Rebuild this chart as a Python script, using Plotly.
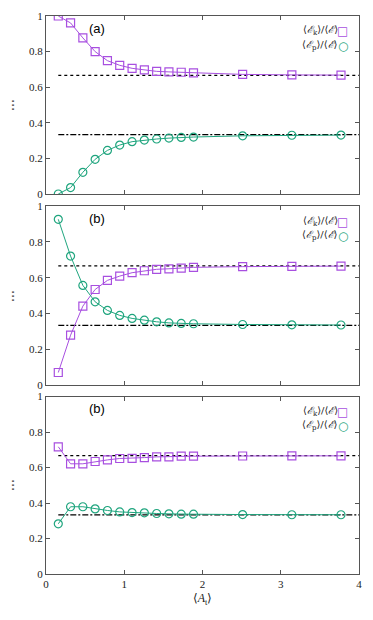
import plotly.graph_objects as go

# ---- data ----
A_t = [0.157, 0.314, 0.471, 0.628, 0.785, 0.942, 1.100, 1.257, 1.414, 1.571,
       1.728, 1.885, 2.513, 3.142, 3.770]

ek_a = [1.000, 0.961, 0.877, 0.800, 0.749, 0.723, 0.706, 0.697, 0.689, 0.686,
        0.684, 0.680, 0.672, 0.669, 0.668]
ep_a = [0.000, 0.036, 0.122, 0.195, 0.245, 0.275, 0.294, 0.303, 0.309, 0.314,
        0.318, 0.320, 0.327, 0.330, 0.331]

ek_b = [0.069, 0.278, 0.441, 0.534, 0.585, 0.609, 0.628, 0.639, 0.647, 0.650,
        0.654, 0.658, 0.662, 0.664, 0.665]
ep_b = [0.927, 0.721, 0.557, 0.465, 0.417, 0.389, 0.372, 0.362, 0.353, 0.347,
        0.344, 0.342, 0.338, 0.336, 0.335]

ek_c = [0.717, 0.621, 0.621, 0.634, 0.643, 0.651, 0.652, 0.656, 0.660, 0.660,
        0.664, 0.664, 0.665, 0.666, 0.666]
ep_c = [0.283, 0.379, 0.379, 0.367, 0.358, 0.350, 0.346, 0.345, 0.341, 0.339,
        0.337, 0.337, 0.335, 0.334, 0.334]

ref_x = [0.157, 4.0]
ref_k = [2 / 3, 2 / 3]
ref_p = [1 / 3, 1 / 3]

panel_labels = ["(a)", "(b)", "(b)"]
y_ticks = [0, 0.2, 0.4, 0.6, 0.8, 1]
y_ticktext = ["0", "0.2", "0.4", "0.6", "0.8", "1"]
x_ticks = [0, 1, 2, 3, 4]
x_ticktext = ["0", "1", "2", "3", "4"]

PURPLE = "#a84fe0"
GREEN = "#1fa57e"
FRAME = "#555555"
SERIF = "Liberation Serif"
LEGSERIF = "DejaVu Serif"

panels = [(ek_a, ep_a), (ek_b, ep_b), (ek_c, ep_c)]
domains = [[0.681, 1.0], [0.339, 0.659], [0.0, 0.318]]

fig = go.Figure()

for i, (ek, ep) in enumerate(panels):
    n = i + 1
    xa = "x" if n == 1 else f"x{n}"
    ya = "y" if n == 1 else f"y{n}"
    fig.add_trace(go.Scatter(x=ref_x, y=ref_k, mode="lines", xaxis=xa, yaxis=ya,
                             line=dict(color="black", width=1.2, dash="3px,3px"),
                             showlegend=False, hoverinfo="skip"))
    fig.add_trace(go.Scatter(x=ref_x, y=ref_p, mode="lines", xaxis=xa, yaxis=ya,
                             line=dict(color="black", width=1.2, dash="6px,2px,2px,2px"),
                             showlegend=False, hoverinfo="skip"))
    fig.add_trace(go.Scatter(x=A_t, y=ek, mode="lines+markers", xaxis=xa, yaxis=ya,
                             line=dict(color=PURPLE, width=1),
                             marker=dict(symbol="square-open", size=8,
                                         color=PURPLE, line=dict(width=1.2)),
                             showlegend=False))
    fig.add_trace(go.Scatter(x=A_t, y=ep, mode="lines+markers", xaxis=xa, yaxis=ya,
                             line=dict(color=GREEN, width=1),
                             marker=dict(symbol="circle-open", size=8,
                                         color=GREEN, line=dict(width=1.2)),
                             showlegend=False))

    axis_common = dict(showline=True, linecolor=FRAME, linewidth=1, mirror="ticks",
                       ticks="inside", ticklen=4, tickcolor=FRAME, showgrid=False,
                       zeroline=False, automargin=False,
                       tickfont=dict(family=SERIF, size=11, color="#222"))
    xkey = "xaxis" if n == 1 else f"xaxis{n}"
    ykey = "yaxis" if n == 1 else f"yaxis{n}"
    fig.layout[xkey] = dict(axis_common, domain=[0, 1], range=[0, 4], anchor=ya,
                            tickvals=x_ticks, ticktext=x_ticktext,
                            showticklabels=(n == 3),
                            title=dict(text="⟨<i>A</i><sub>t</sub>⟩" if n == 3 else "",
                                       font=dict(family=SERIF, size=12, color="#222"),
                                       standoff=4))
    fig.layout[ykey] = dict(axis_common, domain=domains[i], range=[0, 1], anchor=xa,
                            tickvals=y_ticks, ticktext=y_ticktext,
                            title=dict(text="⋯", font=dict(family=SERIF, size=12, color="#333"),
                                       standoff=8))

    # panel label
    fig.add_annotation(x=0.65, y=0.93, xref=xa, yref=ya, text=panel_labels[i],
                       showarrow=False, font=dict(family="Liberation Sans",
                                                  size=13, color="black"))
    # legend
    ydom = f"{ya} domain"
    xdom = f"{xa} domain"
    fig.add_annotation(x=0.935, y=0.958, xref=xdom, yref=ydom, xanchor="right",
                       text="⟨<i>ℰ</i><sub>k</sub>⟩/⟨<i>ℰ</i>⟩", showarrow=False,
                       borderpad=0, font=dict(family=LEGSERIF, size=10, color="#222"))
    fig.add_annotation(x=0.935, y=0.878, xref=xdom, yref=ydom, xanchor="right",
                       text="⟨<i>ℰ</i><sub>p</sub>⟩/⟨<i>ℰ</i>⟩", showarrow=False,
                       borderpad=0, font=dict(family=LEGSERIF, size=10, color="#222"))
    fig.add_annotation(x=0.968, y=0.958, xref=xdom, yref=ydom,
                       text="□", showarrow=False, borderpad=0,
                       font=dict(family="DejaVu Sans", size=12, color=PURPLE))
    fig.add_annotation(x=0.968, y=0.878, xref=xdom, yref=ydom,
                       text="○", showarrow=False, borderpad=0,
                       font=dict(family="DejaVu Sans", size=12, color=GREEN))

fig.update_layout(template="none", width=373, height=620,
                  margin=dict(l=46, r=14, t=16, b=46),
                  plot_bgcolor="white", paper_bgcolor="white", showlegend=False)

fig.write_html("out.html", config={"displayModeBar": False},
               post_script="document.body.style.margin='0px';document.body.style.padding='0px';")
